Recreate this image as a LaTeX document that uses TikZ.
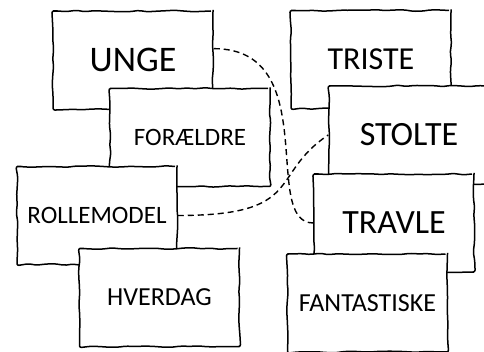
\documentclass[tikz,border=0pt]{standalone}
\usepackage{fontspec}
\setmainfont{Carlito}
\usetikzlibrary{decorations.pathmorphing}

\begin{document}
\begin{tikzpicture}[x=1pt,y=-1pt,
	cadre/.style={draw,fill=white,line width=1.5pt,minimum width=160pt,minimum height=98pt,inner sep=0pt,
		decorate,decoration={random steps,segment length=9pt,amplitude=0.8pt},rounded corners=2pt},
	grand/.style={font=\fontsize{34}{40}\selectfont},
	petit/.style={font=\fontsize{25}{30}\selectfont},
	lien/.style={line width=1.4pt,dash pattern=on 6pt off 4pt}]
				\pgfmathsetseed{12}
				\useasboundingbox (0,0) rectangle (484,352);
				% Cadres
				\node [cadre,font=\fontsize{36}{40}\selectfont] (unge) at (133,60) {UNGE};
				\node [cadre,petit] (foraeldre) at (190,137.5) {FORÆLDRE};
				\node [cadre,petit] (rollemodel) at (97,215.5) {ROLLEMODEL};
				\node [cadre,font=\fontsize{26}{30}\selectfont] (hverdag) at (159.5,297.5) {HVERDAG};
				\node [cadre,font=\fontsize{32}{40}\selectfont] (triste) at (371,59.5) {TRISTE};
				\node [cadre,grand] (stolte) at (409,135) {STOLTE};
				\node [cadre,grand] (travle) at (394,223) {TRAVLE};
				\node [cadre,font=\fontsize{26}{30}\selectfont] (fantastiske) at (367.5,303) {FANTASTISKE};
				% Liens
				\draw [lien] (unge.8) .. controls +(110,0) and +(-53,0) .. (travle.west);
				\draw [lien] (rollemodel.east) .. controls +(128,0) and +(-60,40) .. (stolte.west);
				\end{tikzpicture}
\end{document}
